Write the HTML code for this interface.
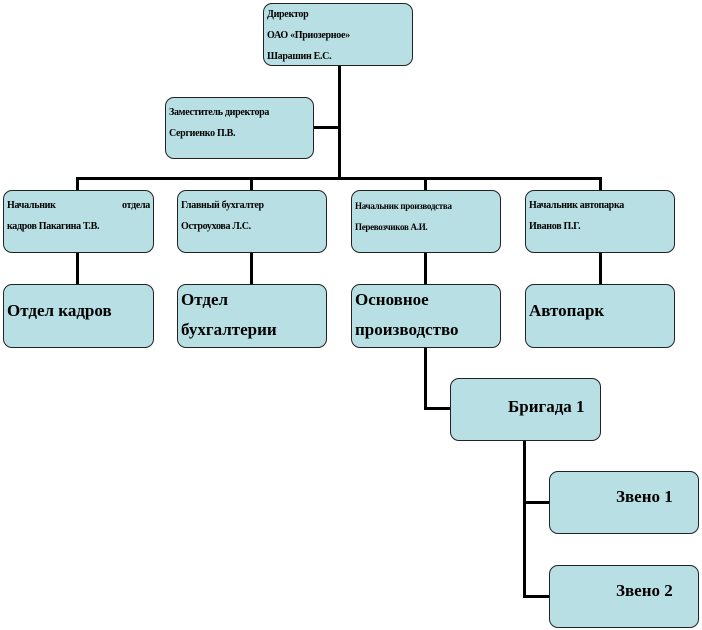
<!DOCTYPE html>
<html><head><meta charset="utf-8"><style>
body{margin:0;width:702px;height:630px;background:#fff;position:relative;overflow:hidden;font-family:"Liberation Serif","DejaVu Serif",serif;font-weight:bold;color:#000}
.b{position:absolute;box-sizing:border-box;background:#b8dfe3;border:1.5px solid #222;border-radius:9px;padding:3px 3px;}
.s{font-size:10px;line-height:21px;letter-spacing:-0.3px}
.l{font-size:17px;line-height:33px;padding-top:0}
.l2{font-size:17px;line-height:30px}
.h,.v{position:absolute;background:#000}
.h{height:3px}.v{width:3px}
</style></head><body>
<div class="v" style="left:338px;top:64px;height:116px"></div>
<div class="h" style="left:312px;top:126px;width:28px"></div>
<div class="h" style="left:76px;top:177px;width:526px"></div>
<div class="v" style="left:76px;top:177px;height:14px"></div>
<div class="v" style="left:250px;top:177px;height:14px"></div>
<div class="v" style="left:424px;top:177px;height:14px"></div>
<div class="v" style="left:599px;top:177px;height:14px"></div>
<div class="v" style="left:76px;top:251px;height:34px"></div>
<div class="v" style="left:250px;top:251px;height:34px"></div>
<div class="v" style="left:424px;top:251px;height:34px"></div>
<div class="v" style="left:599px;top:251px;height:34px"></div>
<div class="v" style="left:424px;top:346px;height:64px"></div>
<div class="h" style="left:424px;top:407px;width:27px"></div>
<div class="v" style="left:523px;top:439px;height:159px"></div>
<div class="h" style="left:523px;top:501px;width:27px"></div>
<div class="h" style="left:523px;top:595px;width:27px"></div>

<div class="b s" style="left:263px;top:3px;width:150px;height:63px;padding-top:0">Директор<br>ОАО «Приозерное»<br>Шарашин Е.С.</div>
<div class="b s" style="left:165px;top:97px;width:149px;height:62px;padding-top:4px">Заместитель директора<br>Сергиенко П.В.</div>

<div class="b s" style="left:3px;top:190px;width:151px;height:63px;padding-top:4px;text-align:justify;text-align-last:left"><span style="display:flex;justify-content:space-between"><span>Начальник</span><span>отдела</span></span>кадров Пакагина Т.В.</div>
<div class="b s" style="left:177px;top:190px;width:150px;height:63px;padding-top:4px">Главный бухгалтер<br>Остроухова Л.С.</div>
<div class="b s" style="left:351px;top:190px;width:150px;height:63px;padding-top:5px;font-size:9px">Начальник производства<br>Перевозчиков А.И.</div>
<div class="b s" style="left:525px;top:190px;width:150px;height:63px;padding-top:4px">Начальник автопарка<br>Иванов П.Г.</div>

<div class="b l" style="left:3px;top:284px;width:151px;height:64px;padding-top:9px">Отдел кадров</div>
<div class="b l2" style="left:177px;top:284px;width:150px;height:64px;padding-top:0">Отдел<br>бухгалтерии</div>
<div class="b l2" style="left:351px;top:284px;width:150px;height:64px;padding-top:0">Основное<br>производство</div>
<div class="b l" style="left:525px;top:284px;width:150px;height:64px;padding-top:9px">Автопарк</div>

<div class="b l" style="left:450px;top:378px;width:151px;height:63px;padding:11px 0 0 57px">Бригада 1</div>
<div class="b l" style="left:549px;top:471px;width:150px;height:63px;padding:8px 0 0 66px">Звено 1</div>
<div class="b l" style="left:549px;top:565px;width:150px;height:63px;padding:8px 0 0 66px">Звено 2</div>
</body></html>
